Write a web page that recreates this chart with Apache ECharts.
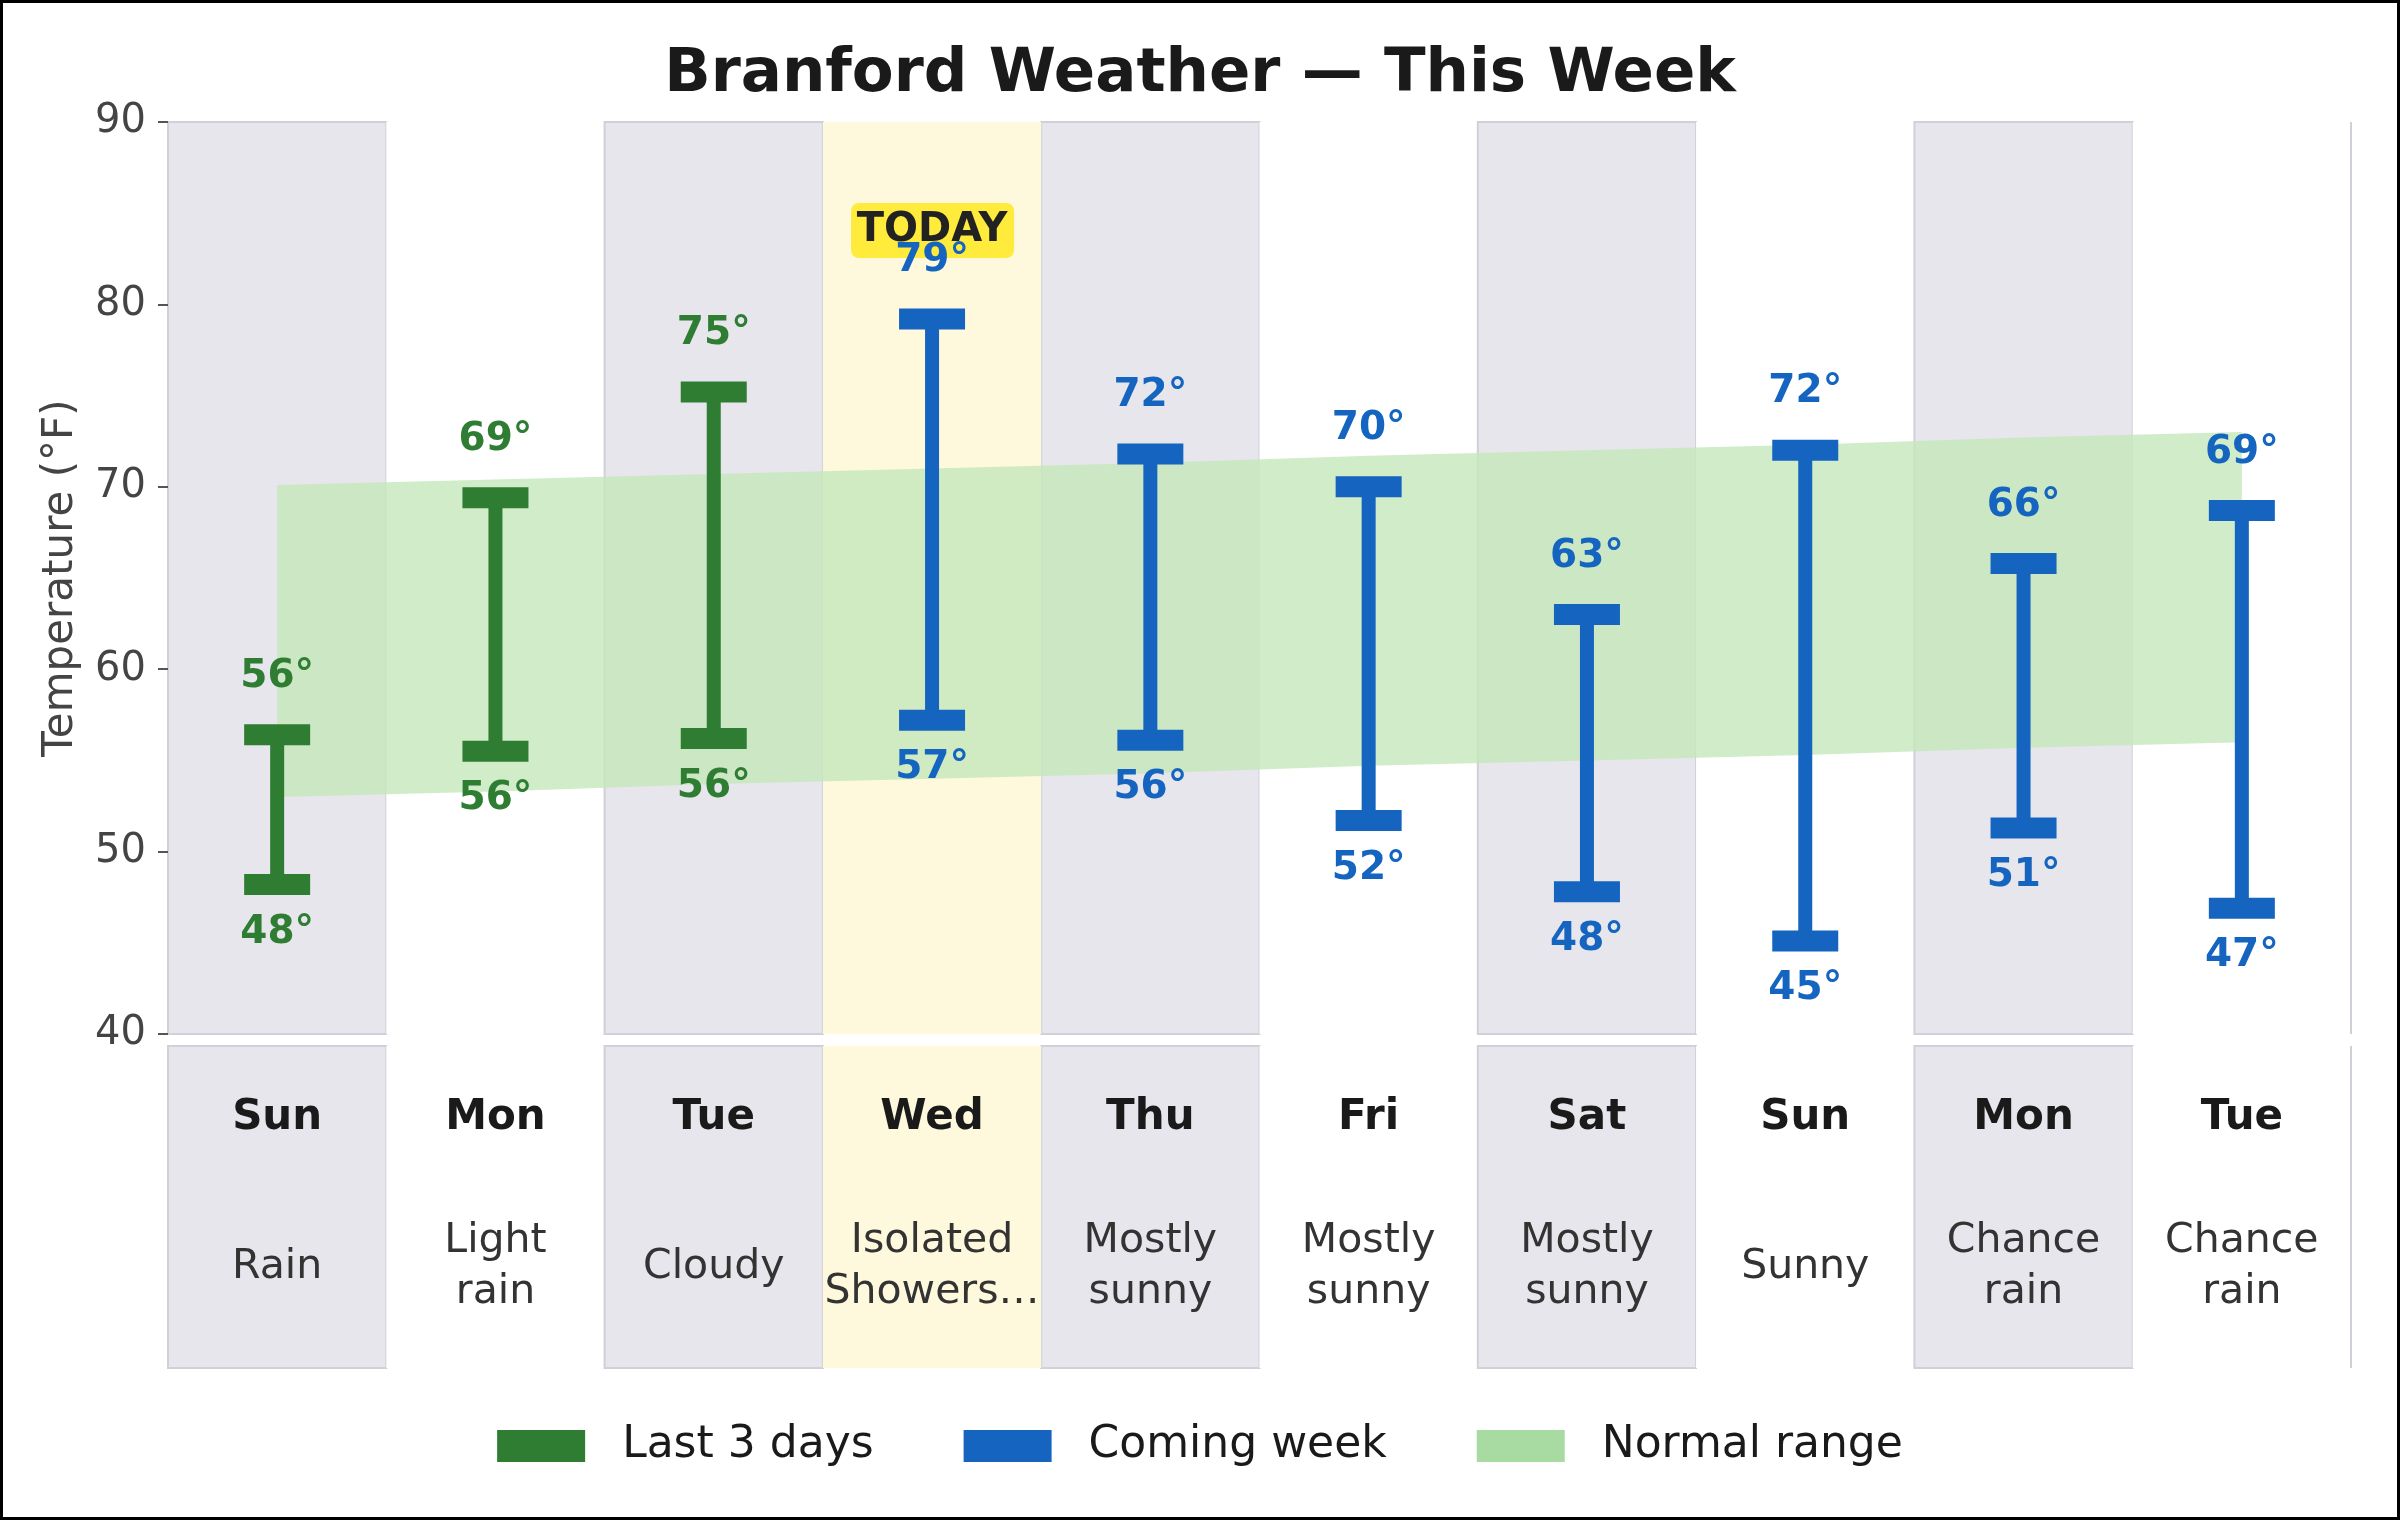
<!DOCTYPE html>
<html>
<head>
<meta charset="utf-8">
<script src="https://cdn.jsdelivr.net/npm/echarts@6.0.0/dist/echarts.min.js"></script>
<style>
html,body{margin:0;padding:0;background:#fff}
#main{width:2400px;height:1520px}
</style>
</head>
<body>
<div id="main"></div>
<script>
// data
var days = ['Sun','Mon','Tue','Wed','Thu','Fri','Sat','Sun','Mon','Tue'];
var conditions = ['Rain','Light\nrain','Cloudy','Isolated\nShowers\u2026','Mostly\nsunny','Mostly\nsunny','Mostly\nsunny','Sunny','Chance\nrain','Chance\nrain'];
var highs = [56.4,69.4,75.2,79.2,71.8,70.0,63.0,72.0,65.8,68.7];
var lows  = [48.2,55.5,56.2,57.2,56.1,51.7,47.8,45.1,51.3,46.9];
var normalHigh = [70.1,70.4,70.7,71.0,71.3,71.7,72.0,72.3,72.7,73.0];
var normalLow  = [53.0,53.3,53.7,54.0,54.3,54.7,55.0,55.3,55.7,56.0];
var pastCount = 3;   // Sun..Tue are observed, rest forecast
var todayIdx = 3;

var GREEN = '#2e7d32', BLUE = '#1565c0', NORMAL = '#c4e7ba', NORMAL_KEY = '#a8dba2';
var BAND_GRAY = '#e6e6ec', BAND_TODAY = '#fef8dc', BAND_EDGE = '#d0d0d8';
var FONT = '"DejaVu Sans", sans-serif';

var past = [], coming = [], bandData = [], normalDiff = [];
for (var i = 0; i < days.length; i++) {
    if (i < pastCount) past.push([i, lows[i], highs[i]]);
    else coming.push([i, lows[i], highs[i]]);
    bandData.push([i, 40]);
    normalDiff.push(+(normalHigh[i] - normalLow[i]).toFixed(2));
}

function bandRect(i, x, w, y, h) {
    var fill = i === todayIdx ? BAND_TODAY : (i % 2 === 0 ? BAND_GRAY : '#ffffff');
    var kids = [{
        type: 'rect', z2: i === todayIdx ? 5 : 1,
        shape: {x: x - w / 2, y: y, width: w, height: h},
        style: {fill: fill, stroke: (i % 2 === 0 && i !== todayIdx) ? BAND_EDGE : null, lineWidth: 2}
    }];
    if (i === days.length - 1) {
        kids.push({type: 'line', z2: 6, shape: {x1: x + w / 2, y1: y, x2: x + w / 2, y2: y + h},
            style: {stroke: BAND_EDGE, lineWidth: 2}});
    }
    return kids;
}

// upper panel background bands
function renderBand(params, api) {
    var i = api.value(0);
    var cs = params.coordSys;
    var x = api.coord([i, 40])[0];
    var w = api.size([1, 0])[0];
    return {type: 'group', children: bandRect(i, x, w, cs.y, cs.height)};
}

// lower panel: bands + day names + conditions
function renderTable(params, api) {
    var i = api.value(0);
    var cs = params.coordSys;
    var x = api.coord([i, 0])[0];
    var w = api.size([1, 0])[0];
    var kids = bandRect(i, x, w, cs.y, cs.height);
    kids.push({type: 'text', z2: 10, style: {text: days[i], x: x, y: cs.y + 72,
        align: 'center', verticalAlign: 'middle', fill: '#1a1a1a',
        font: 'bold 42px ' + FONT}});
    kids.push({type: 'text', z2: 10, style: {text: conditions[i], x: x, y: cs.y + 221,
        align: 'center', verticalAlign: 'middle', fill: '#333333', lineHeight: 51,
        font: '41px ' + FONT}});
    return {type: 'group', children: kids};
}

function renderRange(color) {
    return function (params, api) {
        var i = api.value(0);
        var hi = api.value(2), lo = api.value(1);
        var top = api.coord([i, hi]);
        var bot = api.coord([i, lo]);
        var x = top[0];
        var kids = [
            {type: 'rect', shape: {x: x - 7, y: top[1], width: 14, height: bot[1] - top[1]}, style: {fill: color}},
            {type: 'rect', shape: {x: x - 33, y: top[1] - 10.5, width: 66, height: 21}, style: {fill: color}},
            {type: 'rect', shape: {x: x - 33, y: bot[1] - 10.5, width: 66, height: 21}, style: {fill: color}}
        ];
        if (i === todayIdx) {
            kids.push({type: 'rect', shape: {x: x - 81, y: top[1] - 116, width: 163, height: 55, r: 8},
                style: {fill: '#ffeb3b'}});
            kids.push({type: 'text', style: {text: 'TODAY', x: x, y: top[1] - 88, align: 'center',
                verticalAlign: 'middle', fill: '#222222', font: 'bold 40px ' + FONT}});
        }
        kids.push({type: 'text', style: {text: Math.round(hi) + '\u00b0', x: x, y: top[1] - 58,
            align: 'center', verticalAlign: 'middle', fill: color, font: 'bold 39px ' + FONT}});
        kids.push({type: 'text', style: {text: Math.round(lo) + '\u00b0', x: x, y: bot[1] + 48,
            align: 'center', verticalAlign: 'middle', fill: color, font: 'bold 39px ' + FONT}});
        return {type: 'group', children: kids};
    };
}

var chart = echarts.init(document.getElementById('main'));
var option = {
    backgroundColor: '#ffffff',
    animation: false,
    title: {
        text: 'Branford Weather \u2014 This Week',
        left: 'center', top: 40,
        textStyle: {fontSize: 61, fontWeight: 'bold', color: '#1a1a1a', fontFamily: FONT}
    },
    legend: {
        top: 1419, left: 'center',
        itemWidth: 88, itemHeight: 32, itemGap: 90,
        textStyle: {fontSize: 44, color: '#1a1a1a', fontFamily: FONT, padding: [0, 0, 0, 32]},
        data: [
            {name: 'Last 3 days', icon: 'rect', itemStyle: {color: GREEN}},
            {name: 'Coming week', icon: 'rect', itemStyle: {color: BLUE}},
            {name: 'Normal range', icon: 'rect', itemStyle: {color: NORMAL_KEY}}
        ]
    },
    graphic: [{
        type: 'rect', z: 100, silent: true,
        shape: {x: 1.5, y: 1.5, width: 2397, height: 1517},
        style: {fill: null, stroke: '#000', lineWidth: 3}
    }],
    grid: [
        {left: 168, right: 49, top: 122, height: 912},
        {left: 168, right: 49, top: 1046, height: 322}
    ],
    xAxis: [
        {type: 'category', data: days, gridIndex: 0, boundaryGap: true,
         axisLine: {show: false}, axisTick: {show: false}, axisLabel: {show: false}, splitLine: {show: false}},
        {type: 'category', data: days, gridIndex: 1, boundaryGap: true,
         axisLine: {show: false}, axisTick: {show: false}, axisLabel: {show: false}, splitLine: {show: false}}
    ],
    yAxis: [
        {type: 'value', gridIndex: 0, min: 40, max: 90, interval: 10,
         name: 'Temperature (\u00b0F)', nameLocation: 'middle', nameGap: 86,
         nameTextStyle: {fontSize: 42, color: '#444444', fontFamily: FONT},
         axisLine: {show: true, lineStyle: {color: '#cccccc', width: 2}},
         axisTick: {show: true, length: 10, lineStyle: {color: '#555555', width: 2}},
         axisLabel: {fontSize: 40, color: '#444444', fontFamily: FONT, margin: 22},
         splitLine: {show: false}},
        {type: 'value', gridIndex: 1, min: 0, max: 1, show: false}
    ],
    series: [
        {type: 'custom', name: 'bands', xAxisIndex: 0, yAxisIndex: 0, z: 0, silent: true,
         renderItem: renderBand, data: bandData, encode: {x: 0, y: 1}},
        {type: 'custom', name: 'table', xAxisIndex: 1, yAxisIndex: 1, z: 0, silent: true,
         renderItem: renderTable, data: bandData.map(function (d) { return [d[0], 0]; }), encode: {x: 0, y: 1}},
        {type: 'line', name: 'normalBase', stack: 'normal', data: normalLow, z: 1, silent: true,
         showSymbol: false, symbol: 'none', lineStyle: {width: 0, opacity: 0}},
        {type: 'line', name: 'Normal range', stack: 'normal', data: normalDiff, z: 1, silent: true,
         showSymbol: false, symbol: 'none', lineStyle: {width: 0, opacity: 0},
         itemStyle: {color: NORMAL_KEY},
         areaStyle: {color: NORMAL, opacity: 0.8}},
        {type: 'custom', name: 'Last 3 days', z: 3, silent: true, itemStyle: {color: GREEN},
         renderItem: renderRange(GREEN), data: past, encode: {x: 0, y: [1, 2]}},
        {type: 'custom', name: 'Coming week', z: 3, silent: true, itemStyle: {color: BLUE},
         renderItem: renderRange(BLUE), data: coming, encode: {x: 0, y: [1, 2]}}
    ]
};
chart.setOption(option);
</script>
</body>
</html>
